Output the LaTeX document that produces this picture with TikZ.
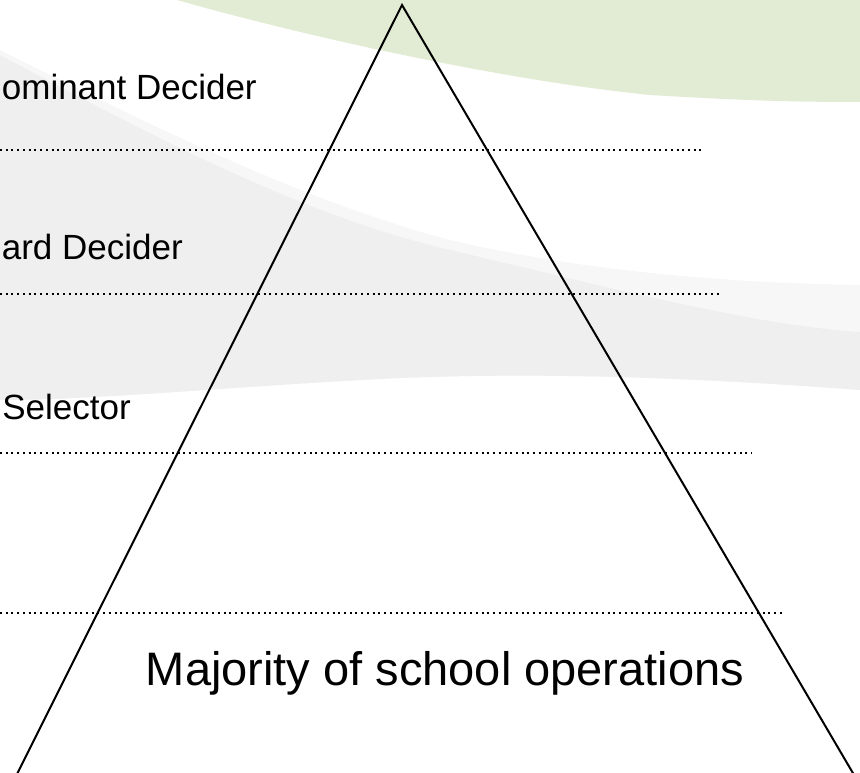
\documentclass[tikz,border=0pt]{standalone}
\usepackage{fontspec}
\setmainfont{Liberation Sans}
\definecolor{swooshGreen}{RGB}{226,235,212}
\definecolor{swooshGrey}{RGB}{239,239,239}
\definecolor{swooshLight}{RGB}{247,247,247}

\begin{document}
\begin{tikzpicture}[x=0.75pt,y=-0.75pt,
  levelText/.style={font=\fontsize{26.25}{30}\selectfont,inner sep=0pt,anchor=base east},
  divider/.style={line width=1.5pt,line cap=butt,dash pattern=on 1.5pt off 2.8pt},
  side/.style={line width=1.5pt}]
\useasboundingbox (0,0) rectangle (860,773);
\clip (0,0) rectangle (860,773);
%background swooshes
\fill[swooshGreen] (177,0) .. controls (300,35) and (500,80) .. (650,95)
  .. controls (750,101) and (800,102) .. (860,102) -- (860,0) -- cycle;
\fill[swooshLight] (0,50) .. controls (150,125) and (300,200) .. (450,240)
  .. controls (600,275) and (750,283) .. (860,285) -- (860,390)
  .. controls (700,378) and (550,372) .. (400,378)
  .. controls (250,385) and (100,400) .. (0,400) -- cycle;
\fill[swooshGrey] (0,55) .. controls (150,135) and (300,215) .. (450,250)
  .. controls (600,285) and (750,325) .. (860,332) -- (860,390)
  .. controls (700,378) and (550,372) .. (400,378)
  .. controls (250,385) and (100,400) .. (0,400) -- cycle;
%
%levels
\foreach \y/\xEnd in {150/705,294/720,453/752,613/785}
  \draw[divider] (0,\y) -- (\xEnd,\y);
\node[levelText] (dominant) at (257,100) {ominant Decider};
\node[levelText] (board) at (183,260) {ard Decider};
\node[levelText] (selector) at (131,420) {Selector};
\node[font=\fontsize{35.25}{40}\selectfont,inner sep=0pt,anchor=base] (majority) at (445,685) {Majority of school operations};
%
%pyramid
\coordinate (apex) at (402,5);
\coordinate (baseLeft) at (14,780);
\coordinate (baseRight) at (857,780);
\draw[side] (baseLeft) -- (apex) -- (baseRight);
\end{tikzpicture}
\end{document}
